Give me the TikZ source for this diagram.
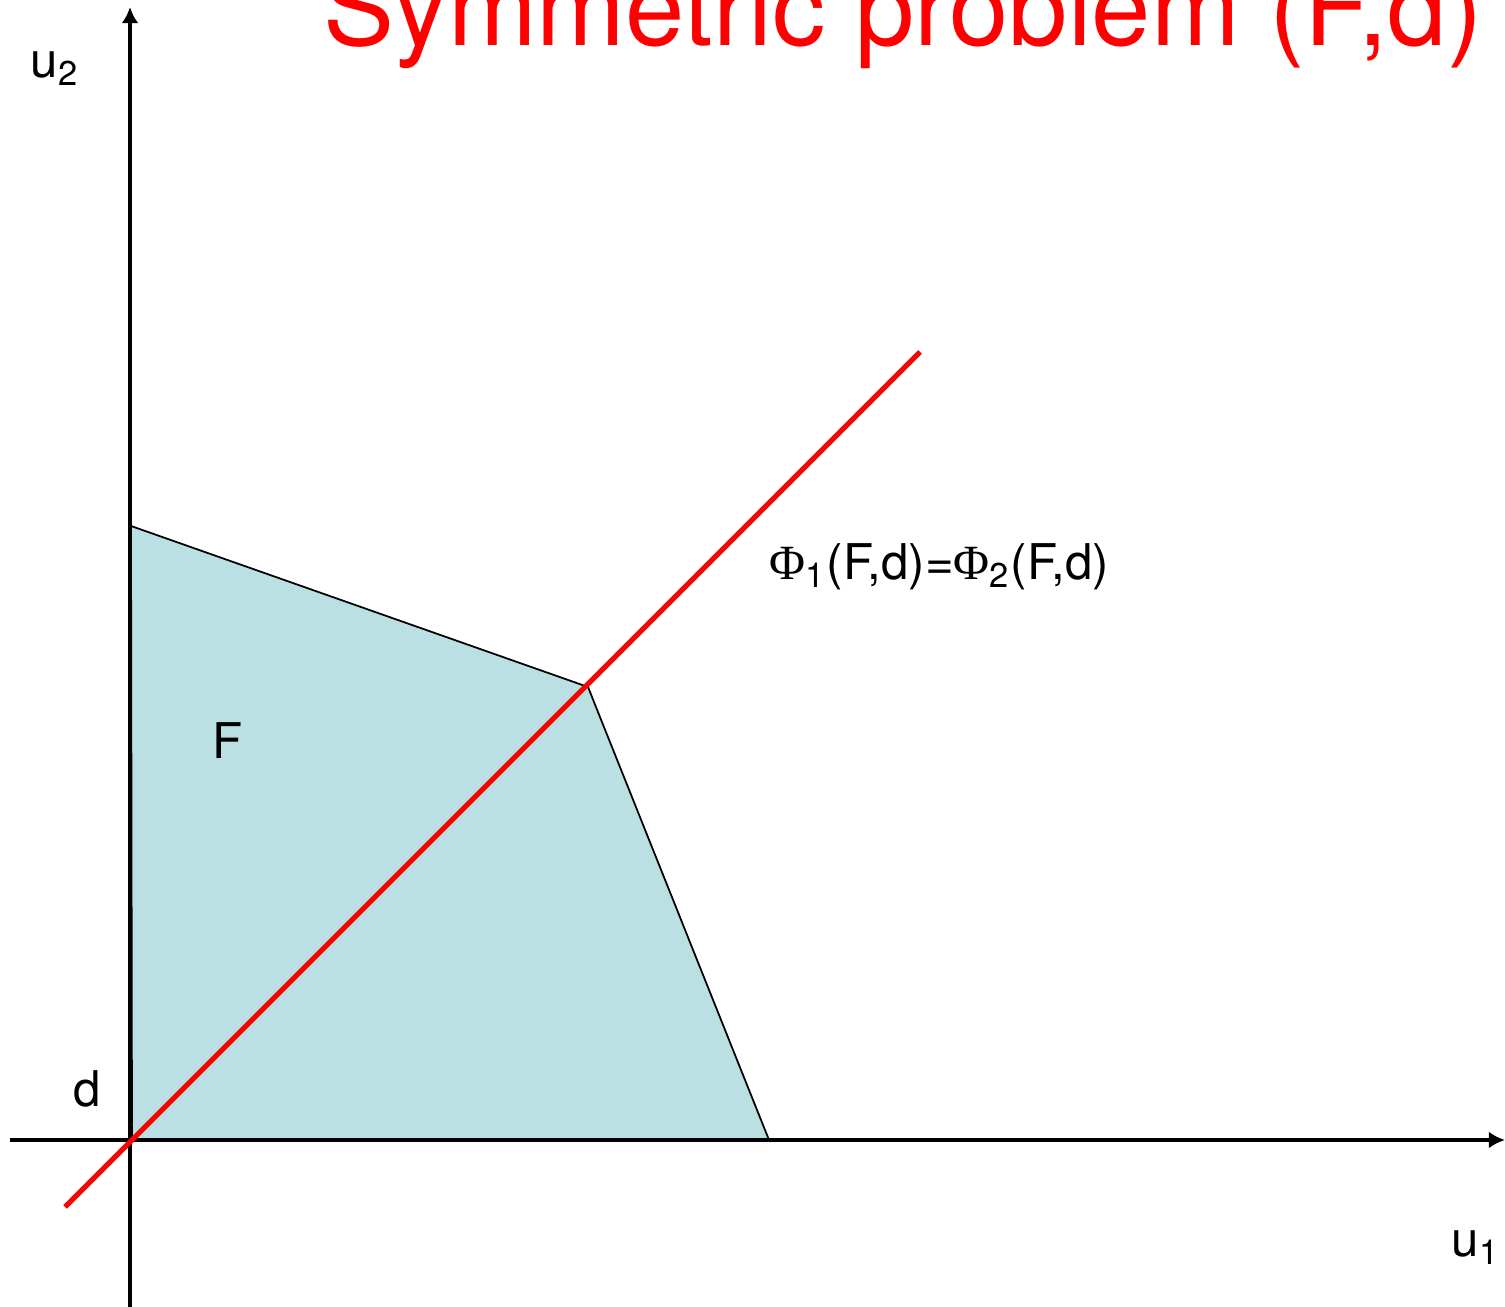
\documentclass[tikz,border=0pt]{standalone}
\usepackage{fontspec}
\setmainfont{TeX Gyre Heros}
\newfontfamily\phifont{Liberation Serif}
\usepackage{xcolor}
\usetikzlibrary{positioning,calc}
\usetikzlibrary{arrows.meta}
\definecolor{regionblue}{RGB}{186,224,227}
\tikzset{
	axis/.style={draw,line width=1.3pt,-{Latex[length=4.6pt,width=4.8pt]}},
	diagonal/.style={draw,red,line width=1.5pt},
	region/.style={draw,black,line width=0.5pt,fill=regionblue},
	lbl/.style={inner sep=0pt,anchor=base west,font=\fontsize{14}{17}\selectfont},
	heading/.style={inner sep=0pt,anchor=base west,text=red,font=\fontsize{30.3}{36}\selectfont},
}

\begin{document}
\begin{tikzpicture}[x=0.01cm,y=-0.01cm]
				\useasboundingbox (0,0) rectangle (1505,1307);
				\clip (0,0) rectangle (1505,1307);
				
				% Corners of F
				\coordinate (d) at (132,1140);
				\coordinate (ftop) at (131,526);
				\coordinate (fsym) at (588,687);
				\coordinate (fright) at (769,1140);
				
				% Axis ends
				\coordinate (xstart) at (10,1140);
				\coordinate (xend) at (1505,1140);
				\coordinate (ystart) at (130,1307);
				\coordinate (yend) at (130,7);
				
				% Ends of the diagonal
				\coordinate (diaglow) at (65,1207);
				\coordinate (diaghigh) at (920,352);
				
				% Feasible set
				\path[region] (d) -- (ftop) -- (fsym) -- (fright) -- cycle;
				
				% Axes
				\draw[axis] (xstart) -- (xend);
				\draw[axis] (ystart) -- (yend);
				
				% Symmetry line
				\draw[diagonal] (diaglow) -- (diaghigh);
				
				% Labels
				\node[heading] (title) at (323,46) {Symmetric problem (F,d)};
				\node[lbl] (u2label) at (30,78) {u\textsubscript{2}};
				\node[lbl] (u1label) at (1451,1257) {u\textsubscript{1}};
				\node[lbl] (dlabel) at (73,1107) {d};
				\node[lbl] (flabel) at (212,759) {F};
				\node[lbl] (philabel) at (769,580) {{\phifont Φ}\textsubscript{1}(F,d)={\phifont Φ}\textsubscript{2}(F,d)};
				
			\end{tikzpicture}
\end{document}
